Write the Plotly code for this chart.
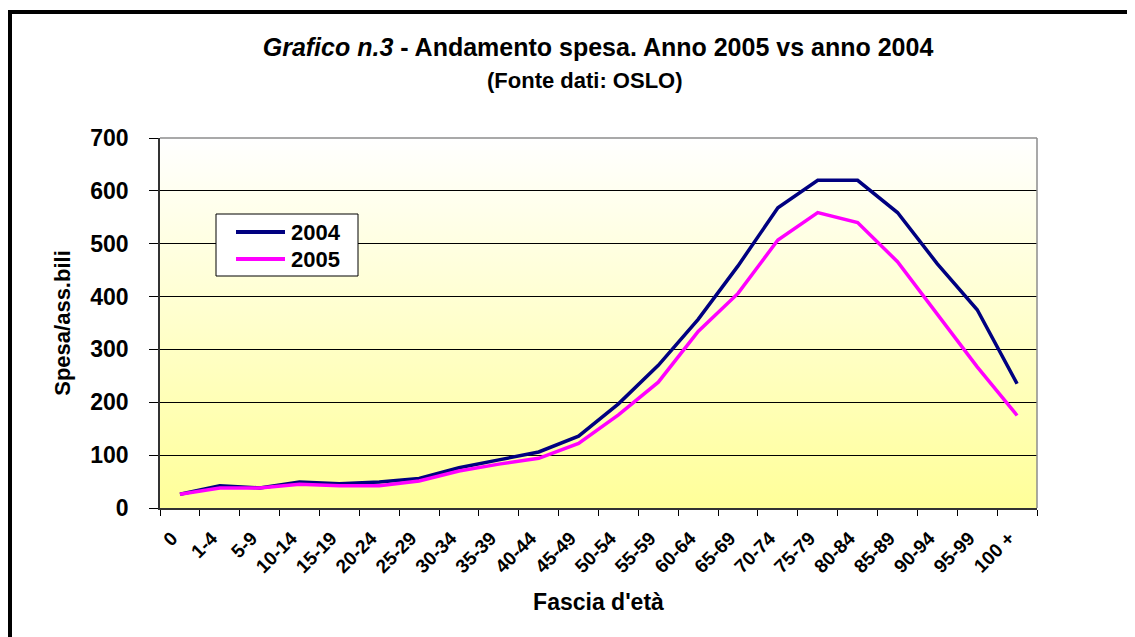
import base64
import plotly.graph_objects as go

categories = ["0", "1-4", "5-9", "10-14", "15-19", "20-24", "25-29", "30-34", "35-39",
              "40-44", "45-49", "50-54", "55-59", "60-64", "65-69", "70-74", "75-79",
              "80-84", "85-89", "90-94", "95-99", "100 +"]
spesa_2004 = [26, 42, 38, 49, 46, 49, 56, 76, 91, 106, 136, 197, 270, 357, 458, 568,
              620, 620, 559, 462, 375, 235]
spesa_2005 = [26, 38, 38, 45, 42, 42, 51, 70, 83, 94, 122, 176, 238, 334, 406, 507,
              559, 540, 466, 367, 267, 175]
y_ticks = [0, 100, 200, 300, 400, 500, 600, 700]
series_names = ["2004", "2005"]
series_colors = ["#000080", "#FF00FF"]

FONT = "Liberation Sans, Arial, sans-serif"

svg = ('<svg xmlns="http://www.w3.org/2000/svg" width="10" height="100" '
       'preserveAspectRatio="none"><defs><linearGradient id="g" x1="0" y1="0" x2="0" y2="1">'
       '<stop offset="0" stop-color="#FFFFFF"/><stop offset="1" stop-color="#FFFF99"/>'
       '</linearGradient></defs><rect width="10" height="100" fill="url(#g)"/></svg>')
bg_uri = "data:image/svg+xml;base64," + base64.b64encode(svg.encode()).decode()

fig = go.Figure()
for name, vals, col in zip(series_names, [spesa_2004, spesa_2005], series_colors):
    fig.add_trace(go.Scatter(x=categories, y=vals, mode="lines", name=name,
                             showlegend=False, line=dict(color=col, width=3.5)))

# page geometry (the page body adds an 8px offset)
OFF = 8
L, R, T, B = 160, 1037, 138, 508
W, H = R - L, B - T


def px(xp):
    return (xp - L) / W


def py(yp):
    return (B - yp) / H


shapes = [
    # outer chart frame
    dict(type="rect", xref="paper", yref="paper",
         x0=px(10), x1=px(1160), y0=py(680), y1=py(12),
         line=dict(color="black", width=4), fillcolor="rgba(0,0,0,0)", layer="above"),
    # top and right plot-area border (gray)
    dict(type="line", xref="paper", yref="paper", x0=0, x1=1, y0=1, y1=1,
         line=dict(color="#8c8c8c", width=1.5), layer="above"),
    dict(type="line", xref="paper", yref="paper", x0=1, x1=1, y0=0, y1=1,
         line=dict(color="#8c8c8c", width=1.5), layer="above"),
    # legend box
    dict(type="rect", xref="paper", yref="paper",
         x0=px(216), x1=px(358), y0=py(276), y1=py(214),
         line=dict(color="black", width=1), fillcolor="white", layer="above"),
]
annotations = [
    dict(text="(Fonte dati: OSLO)", xref="paper", yref="paper",
         x=px(585), y=py(80), xanchor="center", yanchor="middle",
         showarrow=False, font=dict(size=22, weight="bold", family=FONT)),
]
legend_rows = [232, 259]
for name, col, row in zip(series_names, series_colors, legend_rows):
    shapes.append(dict(type="line", xref="paper", yref="paper",
                       x0=px(236), x1=px(285), y0=py(row), y1=py(row),
                       line=dict(color=col, width=4), layer="above"))
    annotations.append(dict(text=name, xref="paper", yref="paper",
                            x=px(290), y=py(row), xanchor="left", yanchor="middle",
                            showarrow=False, borderpad=0,
                            font=dict(size=22, weight="bold", family=FONT)))

fig.update_layout(
    width=1135, height=637,
    margin=dict(l=L - OFF, r=1135 - (R - OFF), t=T - OFF, b=637 - (B - OFF),
                autoexpand=False),
    paper_bgcolor="white",
    plot_bgcolor="rgba(0,0,0,0)",
    font=dict(family=FONT, color="black"),
    title=dict(
        text="<i>Grafico n.3</i> - Andamento spesa. Anno 2005 vs anno 2004",
        font=dict(size=25, weight="bold", family=FONT),
        x=px(598), xref="paper", xanchor="center",
        y=1 - (47 - OFF) / 637, yref="container", yanchor="middle"),
    showlegend=False,
    xaxis=dict(
        type="category", categoryorder="array", categoryarray=categories,
        range=[-0.5, len(categories) - 0.5],
        showgrid=False, zeroline=False,
        showline=True, linecolor="#333333", linewidth=1.5,
        ticks="outside", ticklen=6, tickcolor="black", tickson="boundaries",
        tickangle=-45, tickfont=dict(size=19, weight="bold", family=FONT),
        ticklabelstandoff=10, ticklabelshift=-8,
        title=dict(text="Fascia d'età", font=dict(size=23, weight="bold", family=FONT),
                   standoff=18),
        fixedrange=True),
    yaxis=dict(
        range=[0, 700], tickvals=y_ticks, ticktext=[str(v) for v in y_ticks],
        showgrid=True, gridcolor="black", gridwidth=1, zeroline=False,
        showline=True, linecolor="#333333", linewidth=1.5,
        ticks="outside", ticklen=9, tickcolor="black",
        tickfont=dict(size=23, weight="bold", family=FONT),
        ticklabelstandoff=16,
        title=dict(text="Spesa/ass.bili", font=dict(size=22, weight="bold", family=FONT),
                   standoff=14),
        fixedrange=True),
    images=[dict(source=bg_uri, xref="paper", yref="paper", x=0, y=1, sizex=1, sizey=1,
                 xanchor="left", yanchor="top", sizing="stretch", layer="below")],
    annotations=annotations,
    shapes=shapes,
)

fig.write_html("out.html")
